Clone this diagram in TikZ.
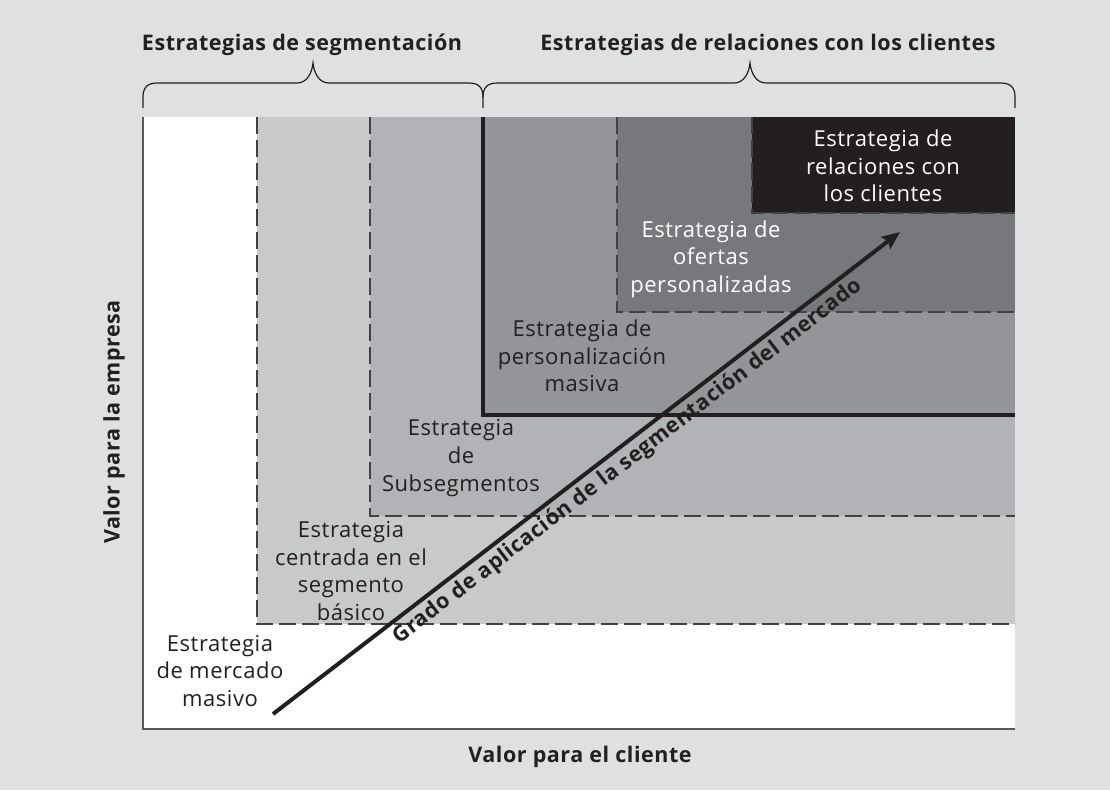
\documentclass[tikz,border=0pt]{standalone}
\usepackage{fontspec}
\setmainfont{Open Sans}[LetterSpace=2.5]
\usetikzlibrary{arrows.meta,positioning,calc}
\definecolor{bgGrey}{HTML}{DFE0E2}
\definecolor{inkDark}{HTML}{231F20}
\definecolor{axisGrey}{HTML}{58595B}
\definecolor{dashGrey}{HTML}{414042}
\definecolor{levelA}{HTML}{C8C9CB}
\definecolor{levelB}{HTML}{B2B3B6}
\definecolor{levelC}{HTML}{939598}
\definecolor{levelD}{HTML}{77787B}
\definecolor{levelE}{HTML}{231F20}

\begin{document}
\begin{tikzpicture}[
  x=1pt, y=-1pt,
  bodyTxt/.style={font=\fontsize{22}{27.7}\selectfont, align=center,
                  inner sep=0pt, text=inkDark},
  lightTxt/.style={bodyTxt, text=white},
  boldTxt/.style={font=\fontsize{21.5}{27}\selectfont\bfseries,
                  inner sep=0pt, text=inkDark},
  lvlDash/.style={draw=dashGrey, line width=1.3pt, dash pattern=on 17pt off 6pt},
  lvlRim/.style={draw=inkDark, line width=4pt},
  axisLine/.style={draw=axisGrey, line width=1.8pt},
  braceLine/.style={draw=inkDark, line width=1.2pt},
  trend/.style={-{Stealth[length=18pt,width=15pt,inset=3pt]},
                line width=4pt, draw=inkDark},
]
\useasboundingbox (0,0) rectangle (1110,790);

% =============================== areas =====================================
\fill[bgGrey] (0,0) rectangle (1110,790);
\fill[white]  (143,117) rectangle (1015,729);
\fill[levelA] (257,117) rectangle (1015,624);
\fill[levelB] (370,117) rectangle (1015,516);
\fill[levelC] (483,117) rectangle (1015,415);
\fill[levelD] (617,117) rectangle (1015,312);
\fill[levelE] (752,117) rectangle (1015,213);

% level borders
\draw[lvlDash] (257,117) |- (1015,624);
\draw[lvlDash] (370,117) |- (1015,516);
\draw[lvlRim]  (483,117) |- (1015,415);
\draw[lvlDash] (617,117) |- (1015,312);
\draw[lvlDash] (752,117) |- (1015,213);

% axes
\draw[axisLine] (143,117) -- (143,729) -- (1015,729);

% =============================== braces ====================================
\draw[braceLine] (143,108) -- (143,97) .. controls (143,88) and (147,83) .. (157,83)
  -- (297,83) .. controls (307,83) and (312,73) .. (313,63)
  .. controls (314,73) and (319,83) .. (329,83)
  -- (469,83) .. controls (479,83) and (483,88) .. (483,97) -- (483,108);
\draw[braceLine] (483,97) .. controls (483,88) and (487,83) .. (497,83)
  -- (734,83) .. controls (744,83) and (749,73) .. (750,63)
  .. controls (751,73) and (756,83) .. (766,83)
  -- (1001,83) .. controls (1011,83) and (1015,88) .. (1015,97) -- (1015,108);

\node[boldTxt] (segTitle) at (302,45) {Estrategias de segmentación};
\node[boldTxt] (relTitle) at (768,45) {Estrategias de relaciones con los clientes};

% =============================== labels ====================================
\node[lightTxt] (relClientes) at (883,166) {Estrategia de\\relaciones con\\los clientes};
\node[lightTxt] (ofertas)     at (711,259) {Estrategia de\\ofertas\\personalizadas};
\node[bodyTxt]  (masiva)      at (582,356) {Estrategia de\\personalización\\masiva};
\node[bodyTxt]  (subseg)      at (461,458) {Estrategia\\de\\Subsegmentos};
\node[bodyTxt]  (basico)      at (351,571) {Estrategia\\centrada en el\\segmento\\básico};
\node[bodyTxt]  (mercado)     at (220,671) {Estrategia\\de mercado\\masivo};

\node[boldTxt, rotate=90] (empresa) at (114,422) {Valor para la empresa};
\node[boldTxt]            (cliente) at (580,757) {Valor para el cliente};

% =============================== arrow =====================================
\coordinate (gradoStart) at (273,714);
\coordinate (gradoEnd)   at (900,232);
\draw[trend] (gradoStart) -- (gradoEnd)
  node[boldTxt, pos=0.55, sloped, below=3.5pt]
  {Grado de aplicación de la segmentación del mercado};

\end{tikzpicture}
\end{document}
